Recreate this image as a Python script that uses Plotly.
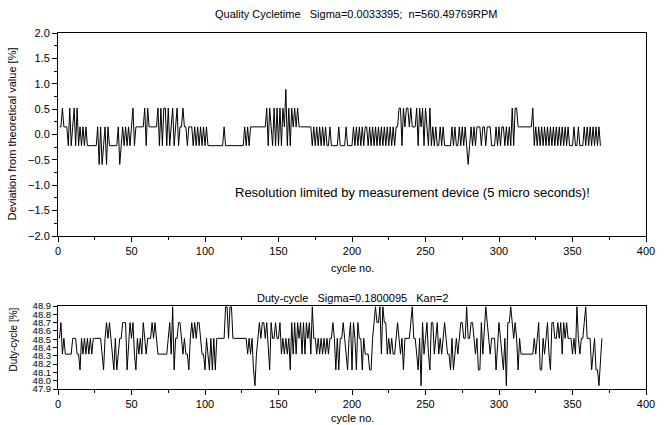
import plotly.graph_objects as go

# Top: deviation from theoretical cycle time [%] per cycle
deviation = [
    0.15,0.15,0.52,0.15,0.15,0.15,-0.22,0.52,-0.22,0.15,0.52,-0.22,0.52,-0.22,0.15,-0.22,0.15,-0.22,0.15,-0.22,
    -0.22,-0.22,-0.22,-0.22,-0.22,-0.22,0.15,-0.59,0.15,-0.59,-0.22,0.15,-0.59,0.15,-0.22,-0.22,-0.22,-0.22,-0.22,-0.22,
    0.15,-0.59,-0.22,0.15,-0.22,0.15,-0.22,0.15,-0.22,0.15,0.52,-0.22,0.15,0.15,0.15,0.15,0.15,0.15,0.52,-0.22,
    0.52,0.15,0.15,0.15,0.15,0.15,0.15,0.52,-0.22,0.52,-0.22,0.52,0.52,-0.22,0.52,-0.22,0.15,0.52,-0.22,0.15,
    0.52,-0.22,0.15,0.15,0.52,0.15,0.15,-0.22,0.15,0.15,0.15,-0.22,0.15,-0.22,0.15,-0.22,0.15,-0.22,0.15,-0.22,
    0.15,-0.22,-0.22,-0.22,-0.22,-0.22,-0.22,-0.22,-0.22,-0.22,-0.22,-0.22,0.15,-0.22,-0.22,-0.22,-0.22,-0.22,-0.22,-0.22,
    -0.22,-0.22,-0.22,-0.22,-0.22,-0.22,0.15,-0.22,0.15,-0.22,0.15,0.15,0.15,0.15,0.15,0.15,0.15,0.15,0.15,0.15,
    0.15,0.52,-0.22,0.52,0.15,-0.22,0.52,-0.22,0.52,-0.22,0.52,-0.22,0.52,0.15,0.89,-0.22,0.52,-0.22,0.52,0.15,
    0.52,0.15,0.52,0.15,0.15,0.15,0.15,0.15,0.15,0.15,0.15,0.15,-0.22,0.15,-0.22,0.15,-0.22,0.15,-0.22,0.15,
    -0.22,0.15,-0.22,-0.22,0.15,-0.22,-0.22,-0.22,-0.22,-0.22,0.15,-0.22,-0.22,-0.22,-0.22,0.15,-0.22,-0.22,-0.22,-0.22,
    0.15,-0.22,0.15,-0.22,0.15,-0.22,0.15,-0.22,0.15,0.15,-0.22,0.15,-0.22,0.15,-0.22,0.15,-0.22,0.15,-0.22,0.15,
    -0.22,0.15,-0.22,0.15,-0.22,0.15,-0.22,0.15,-0.22,0.15,0.15,0.52,0.52,-0.22,0.52,0.15,0.52,0.52,0.15,0.52,
    0.15,0.15,0.15,0.52,-0.22,0.52,0.15,0.52,-0.22,0.52,0.15,-0.22,0.52,-0.22,0.15,-0.22,0.15,-0.22,-0.22,0.15,
    -0.22,0.15,-0.22,-0.22,-0.22,-0.22,-0.22,0.15,-0.22,0.15,-0.22,-0.22,0.15,-0.22,0.15,-0.22,0.15,-0.22,-0.59,-0.22,
    0.15,-0.22,0.15,-0.22,0.15,0.15,0.15,-0.22,0.15,0.15,-0.22,0.15,0.15,0.15,-0.22,-0.22,-0.22,0.15,-0.22,0.15,
    -0.22,0.15,0.15,-0.22,0.15,-0.22,0.15,-0.22,0.52,-0.22,0.52,0.52,0.15,0.15,0.15,0.15,0.15,0.15,0.15,0.15,
    0.15,0.15,0.52,-0.22,0.15,-0.22,0.15,-0.22,0.15,-0.22,0.15,-0.22,0.15,-0.22,0.15,-0.22,0.15,-0.22,0.15,-0.22,
    0.15,-0.22,0.15,-0.22,0.15,-0.22,0.15,-0.22,-0.22,-0.22,0.15,-0.22,-0.22,0.15,-0.22,-0.22,-0.22,0.15,-0.22,0.15,
    -0.22,0.15,-0.22,0.15,-0.22,0.15,-0.22,0.15,-0.22,
]

# Bottom: duty cycle [%] per cycle
duty = [
    48.51,48.70,48.32,48.51,48.32,48.32,48.32,48.32,48.32,48.51,48.51,48.51,48.32,48.32,48.13,48.51,48.32,48.51,48.32,48.51,
    48.32,48.51,48.32,48.51,48.51,48.51,48.51,48.51,48.51,48.32,48.13,48.51,48.70,48.51,48.70,48.51,48.32,48.13,48.51,48.13,
    48.32,48.51,48.51,48.70,48.70,48.70,48.13,48.51,48.70,48.51,48.70,48.32,48.13,48.51,48.32,48.51,48.32,48.70,48.51,48.32,
    48.51,48.51,48.51,48.70,48.51,48.70,48.51,48.32,48.32,48.32,48.32,48.32,48.32,48.32,48.51,48.70,48.32,48.89,48.13,48.51,
    48.51,48.70,48.70,48.51,48.32,48.51,48.32,48.32,48.13,48.51,48.70,48.51,48.70,48.51,48.70,48.70,48.51,48.32,48.32,48.13,
    48.51,48.32,48.13,48.51,48.13,48.51,48.13,48.51,48.51,48.51,48.51,48.51,48.51,48.89,48.89,48.51,48.89,48.89,48.51,48.51,
    48.51,48.51,48.51,48.51,48.51,48.51,48.51,48.51,48.32,48.51,48.32,48.51,48.13,47.94,48.32,48.51,48.70,48.51,48.70,48.70,
    48.51,48.70,48.32,48.13,48.70,48.51,48.51,48.70,48.51,48.51,48.70,48.32,48.51,48.32,48.51,48.32,48.51,48.13,48.70,48.32,
    48.70,48.32,48.70,48.51,48.70,48.32,48.70,48.32,48.70,48.51,48.70,48.32,48.89,48.51,48.51,48.32,48.51,48.32,48.51,48.32,
    48.51,48.32,48.51,48.32,48.51,48.51,48.70,48.51,48.13,48.51,48.13,48.51,48.51,48.70,48.51,48.32,48.13,48.51,48.70,48.13,
    48.70,48.51,48.13,48.70,48.51,48.51,48.13,48.51,48.32,48.32,48.32,48.13,48.13,48.51,48.70,48.89,48.70,48.70,48.89,48.32,
    48.89,48.70,48.70,48.32,48.51,48.32,48.51,48.32,48.32,48.51,48.70,48.51,48.32,48.51,48.13,48.51,48.51,48.51,48.51,48.70,
    48.89,48.51,48.51,48.32,48.13,48.51,47.94,48.70,48.32,48.51,48.70,48.32,48.13,48.70,48.70,48.32,48.51,48.70,48.32,48.51,
    48.32,48.51,48.70,48.51,48.32,48.32,48.13,48.51,48.13,48.32,48.51,48.32,48.51,48.70,48.70,48.51,48.51,48.89,48.51,48.51,
    48.70,48.70,48.51,48.32,48.51,48.13,48.13,48.70,48.32,48.70,48.89,48.70,48.51,48.32,48.51,48.51,48.51,48.13,48.51,48.70,
    48.51,48.32,48.13,48.51,47.94,48.70,48.70,48.89,48.70,48.51,48.70,48.51,48.13,48.51,48.32,48.32,48.32,48.32,48.32,48.32,
    48.32,48.32,48.32,48.51,48.32,48.51,48.70,48.13,48.13,48.51,48.32,48.51,48.70,48.32,48.13,48.70,48.70,48.51,48.51,48.70,
    48.51,48.70,48.32,48.70,48.51,48.70,48.51,48.51,48.51,48.32,48.51,48.32,48.89,48.51,48.32,48.51,48.51,48.70,48.89,48.51,
    48.51,48.51,48.13,48.32,48.51,48.13,48.13,47.94,48.32,48.51,
]

cycles_top = list(range(1, len(deviation) + 1))
cycles_bottom = list(range(1, len(duty) + 1))

title_top = "Quality Cycletime   Sigma=0.0033395;  n=560.49769RPM"
title_bottom = "Duty-cycle   Sigma=0.1800095   Kan=2"
note = "Resolution limited by measurement device (5 micro seconds)!"

FONT = "Liberation Sans, Arial, Helvetica, sans-serif"

fig = go.Figure()
fig.add_trace(go.Scatter(x=cycles_top, y=deviation, mode="lines",
                         line=dict(color="black", width=1), xaxis="x", yaxis="y",
                         showlegend=False))
fig.add_trace(go.Scatter(x=cycles_bottom, y=duty, mode="lines",
                         line=dict(color="black", width=1), xaxis="x2", yaxis="y2",
                         showlegend=False))

axis_common = dict(showline=True, linecolor="black", linewidth=1, mirror=True,
                   ticks="outside", ticklen=5, tickcolor="black", tickwidth=1,
                   showgrid=False, zeroline=False,
                   tickfont=dict(family=FONT, size=11, color="black"))

# page pixel -> paper fraction (plot area spans y 33..389, x 58..653)
H_PLOT = 356.0
def py(p):
    return (389 - p) / H_PLOT
def px(p):
    return (p - 58) / 595.0

fig.update_layout(
    width=667, height=425,
    paper_bgcolor="white", plot_bgcolor="white",
    margin=dict(l=58, r=14, t=33, b=36),
    font=dict(family=FONT, size=11, color="black"),
    xaxis=dict(domain=[0, 1], anchor="y", range=[0, 400], dtick=50,
               minor=dict(dtick=25, ticks="outside", ticklen=3, tickcolor="black"),
               **axis_common),
    yaxis=dict(domain=[py(236), 1], anchor="x", range=[-2, 2], dtick=0.5, tickformat=".1f",
               minor=dict(dtick=0.25, ticks="outside", ticklen=3, tickcolor="black"),
               **axis_common),
    xaxis2=dict(domain=[0, 1], anchor="y2", range=[0, 400], dtick=50,
                minor=dict(dtick=25, ticks="outside", ticklen=3, tickcolor="black"),
                **axis_common),
    yaxis2=dict(domain=[0, py(306)], anchor="x2", range=[47.9, 48.9], dtick=0.1, tickformat=".1f",
                **{**axis_common, "tickfont": dict(family=FONT, size=9.5, color="black"), "ticklen": 4}),
)

ann_font = dict(family=FONT, size=11, color="black")
fig.add_annotation(text=title_top, xref="paper", yref="paper", x=px(360), y=py(14),
                   showarrow=False, font=ann_font, xanchor="center", yanchor="middle")
fig.add_annotation(text="cycle no.", xref="paper", yref="paper", x=0.5, y=py(268),
                   showarrow=False, font=ann_font, xanchor="center", yanchor="middle")
fig.add_annotation(text="Deviation from theoretical value [%]", xref="paper", yref="paper",
                   x=px(11), y=py(134), textangle=-90,
                   showarrow=False, font=dict(family=FONT, size=11, color="black"),
                   xanchor="center", yanchor="middle")
fig.add_annotation(text=note, xref="x", yref="y", x=241, y=-1.15,
                   showarrow=False, font=dict(family=FONT, size=13, color="black"),
                   xanchor="center", yanchor="middle")
fig.add_annotation(text=title_bottom, xref="paper", yref="paper", x=0.5, y=py(298),
                   showarrow=False, font=ann_font, xanchor="center", yanchor="middle")
fig.add_annotation(text="Duty-cycle [%]", xref="paper", yref="paper",
                   x=px(12), y=py(340), textangle=-90,
                   showarrow=False, font=dict(family=FONT, size=10, color="black"),
                   xanchor="center", yanchor="middle")
fig.add_annotation(text="cycle no.", xref="paper", yref="paper", x=0.5, y=py(418),
                   showarrow=False, font=ann_font, xanchor="center", yanchor="middle")

fig.write_html("out.html", config={"displayModeBar": False},
               post_script="document.body.style.margin='0';document.body.style.overflow='hidden';")
